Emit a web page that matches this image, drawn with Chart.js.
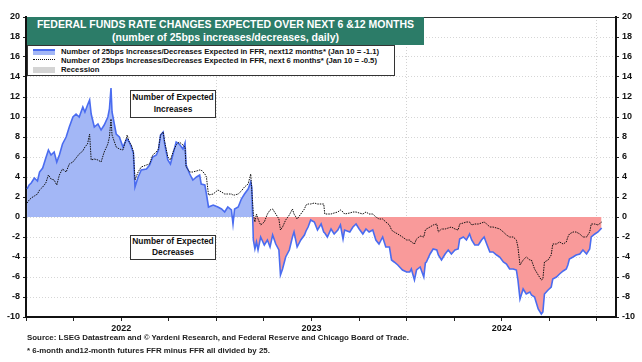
<!DOCTYPE html>
<html>
<head>
<meta charset="utf-8">
<script src="https://cdn.jsdelivr.net/npm/chart.js@4.4.1/dist/chart.umd.min.js"></script>
<style>
  body { margin: 0; background: #fff; font-family: "Liberation Sans", Arial, sans-serif; }
  #wrap { position: relative; width: 642px; height: 362px; }
  #chart { position: absolute; left: 0; top: 0; }
  .title { position: absolute; left: 27px; top: 17px; width: 397px; height: 27px; background: #2c7c68;
           color: #fff; font-weight: bold; font-size: 10.5px; text-align: center; line-height: 13px; padding-top: 1px; }
  .legend { position: absolute; left: 27px; top: 45px; width: 366px; height: 29px; background: #fff;
            border: 1px solid #333; font-size: 7.7px; font-weight: bold; color: #111; }
  .legend div { position: absolute; left: 33px; white-space: nowrap; }
  .sw { position: absolute; left: 5px; width: 22px; height: 6px; }
  .note { position: absolute; background: #fff; border: 1px solid #333; font-size: 8.4px; font-weight: bold;
          text-align: center; line-height: 12px; color: #111; }
  .foot { position: absolute; left: 27px; font-size: 7.9px; font-weight: bold; color: #222; white-space: nowrap; }
</style>
</head>
<body>
<div id="wrap">
  <canvas id="chart" width="642" height="362"></canvas>
  <div class="title">FEDERAL FUNDS RATE CHANGES EXPECTED OVER NEXT 6 &amp;12 MONTHS<br>(number of 25bps increases/decreases, daily)</div>
  <div class="legend">
    <span class="sw" style="top:3px;background:#a3b7f6;border-top:2px solid #4a6cf0;height:4px"></span>
    <div style="top:1px">Number of 25bps Increases/Decreases Expected in FFR, next12 months* (Jan 10 = -1.1)</div>
    <span class="sw" style="top:13px;border-top:1px dotted #111;height:0"></span>
    <div style="top:10px">Number of 25bps Increases/Decreases Expected in FFR, next 6 months* (Jan 10 = -0.5)</div>
    <span class="sw" style="top:21px;background:#d4d4d4"></span>
    <div style="top:19px">Recession</div>
  </div>
  <div class="note" style="left:130px;top:90px;width:84px;height:26px;">Number of Expected<br>Increases</div>
  <div class="note" style="left:130px;top:235px;width:84px;height:23px;line-height:11px;">Number of Expected<br>Decreases</div>
  <div class="foot" style="top:333px">Source: LSEG Datastream and © Yardeni Research, and Federal Reserve and Chicago Board of Trade.</div>
  <div class="foot" style="top:346px">* 6-month and12-month futures FFR minus FFR all divided by 25.</div>
</div>
<script>
const dates = [
  '2022-01-03','2022-01-07','2022-01-11','2022-01-17','2022-01-23','2022-01-27','2022-02-02','2022-02-08',
  '2022-02-13','2022-02-18','2022-02-24','2022-03-01','2022-03-06','2022-03-12','2022-03-19','2022-03-25',
  '2022-04-01','2022-04-07','2022-04-13','2022-04-20','2022-04-24','2022-04-29','2022-05-03','2022-05-06',
  '2022-05-12','2022-05-19','2022-05-25','2022-05-31','2022-06-07','2022-06-10','2022-06-13','2022-06-15',
  '2022-06-23','2022-06-29','2022-07-06','2022-07-12','2022-07-14','2022-07-18','2022-07-22','2022-07-26',
  '2022-07-29','2022-08-04','2022-08-10','2022-08-20','2022-08-26','2022-09-01','2022-09-08','2022-09-12',
  '2022-09-16','2022-09-21','2022-09-24','2022-09-30','2022-10-05','2022-10-10','2022-10-16','2022-10-22',
  '2022-10-29','2022-11-02','2022-11-04','2022-11-11','2022-11-17','2022-11-24','2022-11-30','2022-12-03',
  '2022-12-10','2022-12-13','2022-12-17','2022-12-26',
  '2023-01-04','2023-01-11','2023-01-17','2023-01-23','2023-01-30','2023-02-02','2023-02-05','2023-02-12',
  '2023-02-18','2023-02-24','2023-03-03','2023-03-08','2023-03-10','2023-03-13','2023-03-16','2023-03-19',
  '2023-03-22','2023-03-27','2023-04-03','2023-04-09','2023-04-14','2023-04-19','2023-04-25','2023-05-01',
  '2023-05-04','2023-05-08','2023-05-14','2023-05-21','2023-05-27','2023-05-30','2023-06-05','2023-06-12',
  '2023-06-19','2023-06-22','2023-06-26','2023-07-01','2023-07-08','2023-07-14','2023-07-21','2023-07-26',
  '2023-07-28','2023-08-02','2023-08-09','2023-08-15','2023-08-22','2023-08-27','2023-09-01','2023-09-04',
  '2023-09-14','2023-09-20','2023-09-26','2023-10-02','2023-10-09','2023-10-15','2023-10-21','2023-10-28',
  '2023-11-03','2023-11-09','2023-11-16','2023-11-22','2023-11-29','2023-12-03','2023-12-08','2023-12-15',
  '2023-12-24',
  '2024-01-01','2024-01-07','2024-01-10','2024-01-16','2024-01-20','2024-01-27','2024-02-03','2024-02-06',
  '2024-02-08','2024-02-15','2024-02-21','2024-02-28','2024-03-02','2024-03-08','2024-03-15','2024-03-21',
  '2024-03-27','2024-04-03','2024-04-09','2024-04-12','2024-04-19','2024-04-25','2024-05-01','2024-05-05',
  '2024-05-11','2024-05-18','2024-05-24','2024-05-29','2024-06-03','2024-06-09','2024-06-15','2024-06-22',
  '2024-06-28','2024-07-05','2024-07-11','2024-07-17','2024-07-24','2024-07-30','2024-08-02','2024-08-06',
  '2024-08-12','2024-08-18','2024-08-25','2024-08-28','2024-09-03','2024-09-10','2024-09-16','2024-09-19',
  '2024-09-22','2024-09-29','2024-10-05','2024-10-08','2024-10-15','2024-10-21','2024-10-28','2024-11-03',
  '2024-11-06','2024-11-09','2024-11-16','2024-11-22','2024-11-29','2024-12-05','2024-12-12','2024-12-18',
  '2024-12-21','2024-12-28','2025-01-03','2025-01-10'
];

// number of 25bp moves expected over next 12 months
const next12 = [
  2.8,3.2,3.4,3.9,3.6,4.5,4.9,5.9, 6.7,6.2,6.5,5.5,6.2,7.3,8.0,9.0,
  10.0,10.3,10.0,11.0,10.5,11.2,11.7,10.3, 9.0,9.3,8.7,9.2,10.0,10.8,12.9,10.5,
  8.3,8.0,7.0,7.7,7.8,7.5,7.0,6.4, 3.0,4.0,4.7,4.8,5.2,6.0,6.2,6.7,
  8.2,8.5,7.3,5.7,5.3,6.3,7.5,7.3, 6.8,7.4,5.2,4.3,3.7,4.0,4.2,3.3,
  3.2,2.3,1.0,1.2,
  1.0,0.8,0.5,1.0,0.7,-0.7,0.8,1.0, 1.8,2.3,2.8,3.5,3.0,-2.3,-3.2,-2.5,
  -3.3,-2.0,-2.8,-2.3,-3.0,-1.8,-2.7,-3.3, -5.8,-5.2,-4.0,-3.3,-2.0,-1.5,-3.0,-2.3,
  -1.8,-1.4,-1.0,-0.3,-0.5,-1.3,-0.7,-1.5, -1.6,-2.0,-1.2,-1.7,-1.3,-0.8,-2.2,-1.3,
  -1.5,-1.0,-0.7,-1.2,-1.7,-1.2,-1.5,-1.3, -2.3,-2.7,-2.0,-3.0,-3.0,-4.3,-4.5,-4.8,
  -5.3,
  -5.5,-5.5,-5.2,-6.3,-5.3,-5.0,-6.0,-4.6, -4.5,-3.7,-3.2,-3.3,-3.8,-4.3,-3.7,-3.3,
  -3.7,-3.3,-3.2,-2.2,-2.0,-2.3,-1.7,-2.3, -2.8,-2.8,-2.3,-2.0,-2.7,-3.5,-3.5,-3.8,
  -4.0,-4.5,-4.7,-5.2,-5.2,-5.3,-6.3,-8.2, -7.2,-7.7,-7.5,-7.8,-8.0,-9.2,-9.7,-9.5,
  -7.7,-7.3,-7.0,-6.2,-6.0,-5.7,-5.4,-5.2, -4.8,-4.2,-4.0,-3.8,-3.7,-3.3,-3.7,-3.2,
  -2.0,-1.7,-1.5,-1.1
];

// number of 25bp moves expected over next 6 months
const next6 = [
  1.4,1.7,1.9,2.1,2.3,2.7,3.0,3.4, 4.2,3.8,3.7,3.2,4.2,4.8,4.5,5.3,
  5.5,5.9,6.3,6.6,7.0,7.3,8.3,5.7, 5.8,5.7,5.5,6.5,7.3,8.0,9.8,8.2,
  7.0,6.8,6.7,7.8,8.2,7.5,7.2,6.5, 3.7,4.5,5.0,5.2,5.3,6.2,6.5,6.8,
  8.2,8.5,7.5,6.0,5.7,6.5,7.2,7.5, 7.2,7.0,5.0,4.5,4.5,4.6,4.7,4.7,
  4.3,4.0,2.2,2.3,
  2.7,2.5,2.3,2.3,2.3,2.2,2.2,2.3, 2.6,3.0,3.3,4.3,2.7,0.3,-0.5,0.3,
  -0.2,-0.8,-0.5,0.3,0.7,0.8,0.3,-0.2, -1.3,-1.0,-0.3,0.2,0.8,0.3,-0.2,0.3,
  0.8,1.2,1.3,1.3,1.4,1.3,1.3,1.3, 0.3,0.3,0.3,0.4,0.5,0.7,0.5,0.3,
  0.4,0.5,0.5,0.4,0.3,0.5,0.3,0.3, 0.0,-0.2,-0.2,-0.5,-0.8,-1.3,-1.5,-1.7,
  -2.0,
  -2.3,-2.3,-2.5,-2.7,-2.2,-1.9,-2.0,-1.3, -1.2,-1.0,-0.8,-0.7,-1.5,-1.2,-1.2,-1.1,
  -1.0,-1.2,-1.3,-0.7,-0.6,-0.5,-0.5,-0.8, -0.7,-0.7,-0.6,-0.5,-0.7,-1.0,-1.0,-1.1,
  -1.2,-1.5,-1.8,-2.0,-2.0,-2.3,-3.0,-4.8, -4.3,-4.0,-4.3,-4.3,-5.2,-5.8,-6.3,-6.2,
  -4.5,-4.3,-3.8,-2.7,-2.7,-2.5,-2.7,-2.5, -2.0,-1.7,-1.5,-1.5,-1.7,-2.0,-2.0,-1.5,
  -0.7,-0.7,-0.8,-0.5
];

const yearTicks = [2022, 2023, 2024, 2025];

function toYear(s) {
  const [y, m, d] = s.split('-').map(Number);
  const start = Date.UTC(y, 0, 1), end = Date.UTC(y + 1, 0, 1);
  return y + (Date.UTC(y, m - 1, d) - start) / (end - start);
}

const xs = dates.map(toYear);
const pts = vals => vals.map((v, i) => ({ x: xs[i], y: v }));

const tickFont = { family: 'Liberation Sans', size: 9, weight: 'bold' };
const fixW = w => s => { s.width = w; };

new Chart(document.getElementById('chart'), {
  type: 'line',
  data: {
    datasets: [
      {
        label: 'next 6 months',
        data: pts(next6),
        borderColor: '#111',
        borderWidth: 1,
        borderDash: [1.5, 1],
        pointRadius: 0,
        fill: false,
        order: 0
      },
      {
        label: 'next12 months',
        data: pts(next12),
        borderColor: '#4a6cf0',
        borderWidth: 1.6,
        pointRadius: 0,
        fill: { target: { value: 0 }, above: '#a3b7f6', below: '#f99a9a' },
        order: 1
      }
    ]
  },
  options: {
    responsive: false,
    animation: false,
    layout: { padding: { top: 17, left: 0, right: 0, bottom: 0 } },
    plugins: { legend: { display: false }, tooltip: { enabled: false } },
    scales: {
      x: {
        type: 'linear',
        min: 2022,
        max: 2025.1,
        afterBuildTicks: s => {
          // quarterly tick marks, year labels sit at mid-year
          const t = [];
          for (let q = 2022; q <= 2025.001; q += 0.25) t.push({ value: q });
          s.ticks = t;
        },
        afterFit: s => { s.height = 45; },
        ticks: {
          autoSkip: false, maxRotation: 0, color: '#111', font: tickFont, padding: 2,
          callback: v => (Math.abs(v - Math.floor(v) - 0.5) < 1e-6 ? String(Math.floor(v)) : '')
        },
        grid: {
          color: c => (yearTicks.includes(c.tick && c.tick.value) ? '#d2d2d2' : 'rgba(0,0,0,0)'),
          tickColor: '#222', tickLength: 4, drawOnChartArea: true
        },
        border: { color: '#111', width: 2, dash: [1, 2] }
      },
      xTop: {
        type: 'linear', position: 'top', min: 2022, max: 2025.1,
        ticks: { display: false }, grid: { display: false, drawTicks: false },
        border: { color: '#333', width: 1 },
        afterFit: s => { s.height = 0; }
      },
      y: {
        position: 'left', min: -10, max: 20,
        ticks: { stepSize: 2, color: '#111', font: tickFont, padding: 3 },
        grid: { color: '#d6d6d6', tickColor: '#222', tickLength: 3 },
        border: { color: '#111', width: 2, dash: [1, 2] },
        afterFit: fixW(26)
      },
      y2: {
        position: 'right', min: -10, max: 20,
        ticks: { stepSize: 2, color: '#111', font: tickFont, padding: 3 },
        grid: { drawOnChartArea: false, tickColor: '#222', tickLength: 3 },
        border: { color: '#111', width: 2 },
        afterFit: fixW(26)
      }
    }
  }
});
</script>
</body>
</html>
